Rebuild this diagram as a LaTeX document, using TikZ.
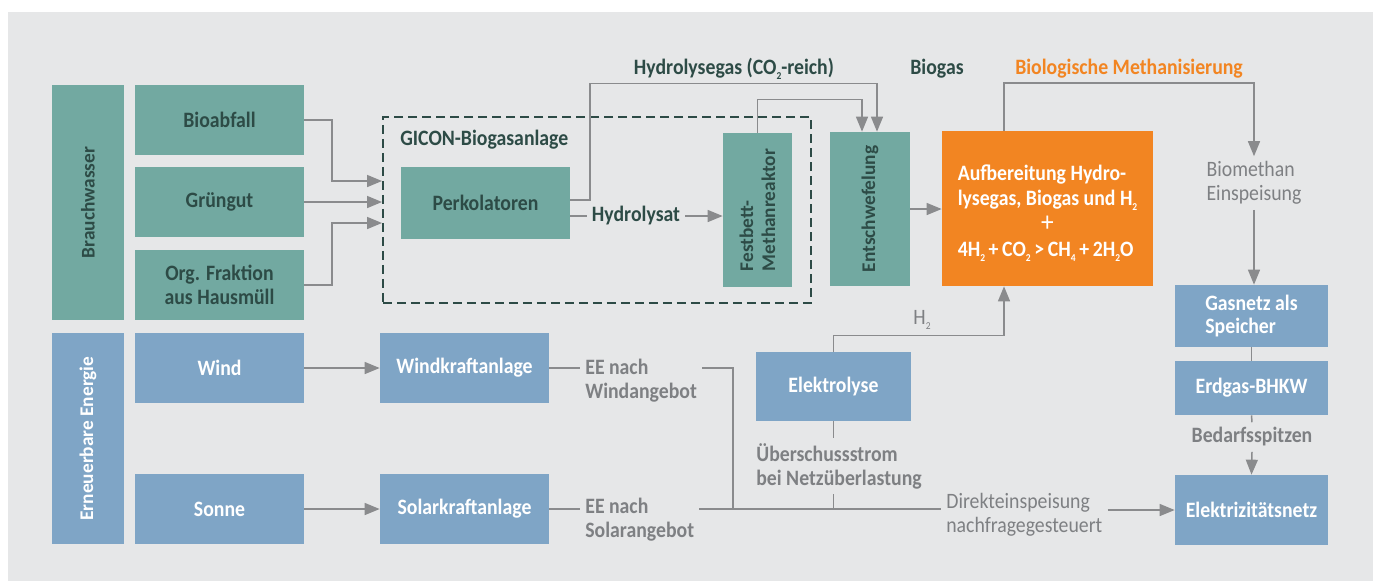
\documentclass[tikz,border=0pt]{standalone}
\usepackage{fontspec}
\setmainfont{Carlito}[FakeStretch=0.9]
\newfontfamily\rotfont{Carlito}
\usepackage{tikz}
\usetikzlibrary{arrows.meta}
\definecolor{tealbg}{HTML}{72A9A1}
\definecolor{tealtext}{HTML}{2D4B46}
\definecolor{bluebg}{HTML}{7FA5C6}
\definecolor{orangebg}{HTML}{F28522}
\definecolor{linegray}{HTML}{8A8B8D}
\definecolor{textgray}{HTML}{7E8083}
\definecolor{bggray}{HTML}{E6E7E8}
\newcommand{\lowidx}[1]{\raisebox{-0.45ex}{\fontsize{6}{6}\selectfont #1}}

\begin{document}
\begin{tikzpicture}[x=0.02cm,y=-0.02cm,line join=miter,
    font=\fontsize{12.5}{13.6}\selectfont\bfseries,
    box/.style 2 args={rectangle,inner sep=2pt,minimum width=#1*0.02cm,minimum height=#2*0.02cm,align=center},
    tealbox/.style={fill=tealbg,text=tealtext},
    bluebox/.style={fill=bluebg,text=white},
    rotlabel/.style={rotate=90,font=\rotfont\fontsize{11}{12.5}\selectfont\bfseries},
    darktext/.style={text=tealtext,inner sep=0.1cm},
    graytext/.style={text=textgray,inner sep=0.1cm,align=left},
    plaintext/.style={font=\fontsize{12.5}{13.6}\selectfont},
    link/.style={draw=linegray,line width=0.85pt},
    flow/.style={link,-{Triangle[length=0.3cm,width=0.24cm]}}]
        \useasboundingbox (0,0) rectangle (1373,583);
        \fill[bggray] (8,12) rectangle (1373,581);
        % Stoffstrom
        \node[box={235}{72},tealbox,rotlabel] (brauch) at (88,202.5) {Brauchwasser};
        \node[box={169}{70},tealbox] (bio) at (219.5,120) {Bioabfall};
        \node[box={169}{70},tealbox] (gruen) at (219.5,202) {Grüngut};
        \node[box={169}{70},tealbox] (org) at (219.5,285) {Org. Fraktion\\aus Hausmüll};
        \node[box={428}{186},draw=tealtext,line width=1.1pt,dash pattern=on 0.18cm off 0.1cm] (gicon) at (597,210) {};
        \node[darktext,anchor=west] (giconlabel) at (395,140) {GICON-Biogasanlage};
        \node[box={169}{72},tealbox] (perk) at (485.5,203) {Perkolatoren};
        % rotierte Knoten: east = oben, north = links, south = rechts
        \node[box={154}{69},tealbox,rotlabel,align=left] (festbett) at (757.5,210) {Festbett-\\Methanreaktor};
        \node[box={154}{80},tealbox,rotlabel] (entsch) at (870,209) {Entschwefelung};
        \node[box={211}{155},fill=orangebg,text=white,inner sep=0pt,font=\fontsize{12.5}{14.5}\selectfont\bfseries] (aufb) at (1047.5,208.5)
            {\raisebox{-0.1cm}[\height][\depth]{\begin{tabular}{@{}l@{}}Aufbereitung Hydro-\\lysegas, Biogas und H\lowidx{2}\\\multicolumn{1}{@{}c@{}}{\mdseries\fontsize{16}{14.5}\selectfont +}\\4H\lowidx{2}\,+\,CO\lowidx{2}\,>\,CH\lowidx{4}\,+\,2H\lowidx{2}O\end{tabular}}};
        \node[darktext] (hgas) at (734,69) {Hydrolysegas (CO\lowidx{2}-reich)};
        \node[darktext] (biogas) at (937,69) {Biogas};
        \node[darktext,text=orangebg] (methan) at (1129,69) {Biologische Methanisierung};
        \node[darktext] (hydrolysat) at (636,216) {Hydrolysat};
        \node[graytext,plaintext] (biomethan) at (1254,183) {Biomethan\\Einspeisung};
        % Energie
        \node[box={211}{72},bluebox,rotlabel] (erneu) at (88,438.5) {Erneuerbare Energie};
        \node[box={169}{70},bluebox] (wind) at (219.5,368) {Wind};
        \node[box={169}{70},bluebox] (sonne) at (219.5,509) {Sonne};
        \node[box={169}{70},bluebox] (windk) at (464.5,368) {Windkraftanlage};
        \node[box={169}{70},bluebox] (solark) at (464.5,509) {Solarkraftanlage};
        \node[graytext,anchor=west] (eewind) at (580,381) {EE nach\\Windangebot};
        \node[graytext,anchor=west] (eesolar) at (580,520) {EE nach\\Solarangebot};
        \node[box={155}{69},bluebox] (elektrolyse) at (833.5,386.5) {Elektrolyse};
        \node[graytext,anchor=west] (ueber) at (751,466) {Überschussstrom\\bei Netzüberlastung};
        \node[graytext,plaintext,anchor=west] (direkt) at (941,515) {Direkteinspeisung\\nachfragegesteuert};
        \node[graytext,plaintext] (htwo) at (922,320) {H\lowidx{2}};
        \node[box={153}{62},bluebox,align=left] (gasnetz) at (1251.5,316) {Gasnetz als\\Speicher};
        \node[box={153}{54},bluebox] (erdgas) at (1251.5,388) {Erdgas-BHKW};
        \node[graytext] (bedarf) at (1252,437) {Bedarfsspitzen};
        \node[box={153}{70},bluebox] (elnetz) at (1251.5,510) {Elektrizitätsnetz};
        \coordinate (bus) at (733,509);
        % Verbindungen
        \draw[flow] (bio.east) -- (332,120) |- (gicon.west |- 0,181);
        \draw[flow] (gruen.east) -- (gruen.east -| gicon.west);
        \draw[flow] (org.east) -- (332,285) |- (gicon.west |- 0,223);
        \draw[flow] (perk.east |- 0,200) -- (590,200) -- (590,83.5) -| ([xshift=0.14cm]entsch.east);
        \draw[link] (perk.east |- 0,216) -- (hydrolysat.west);
        \draw[flow] (hydrolysat.east) -- (festbett.north |- 0,216);
        \draw[flow] (festbett.east) -- ++(0,-33) -| ([xshift=-0.16cm]entsch.east);
        \draw[flow] (entsch.south) -- (entsch.south -| aufb.west);
        \draw[flow] ([xshift=-0.87cm]aufb.north) -- ++(0,-47.5) -| (biomethan.north);
        \draw[flow] (biomethan.south) -- (biomethan.south |- gasnetz.north);
        \draw[link] (gasnetz.south) -- (erdgas.north);
        \draw[link] (erdgas.south) -- (bedarf.north);
        \draw[flow] (bedarf.south) -- (elnetz.north);
        \draw[flow] (elektrolyse.north) -- ++(0,-16) -| ([xshift=-0.87cm]aufb.south);
        \draw[flow] (wind.east) -- (windk.west);
        \draw[flow] (sonne.east) -- (solark.west);
        \draw[link] (windk.east) -- (windk.east -| eewind.west);
        \draw[link] (solark.east) -- (solark.east -| eesolar.west);
        \draw[link] (eewind.east |- windk.east) -| (bus);
        \draw[link] (eesolar.east |- solark.east) -- (solark.east -| direkt.west);
        \draw[link] (elektrolyse.south) -- (elektrolyse.south |- ueber.north);
        \draw[link] (elektrolyse.south |- ueber.south) -- (elektrolyse.south |- bus);
        \draw[flow] (direkt.east |- elnetz.west) -- (elnetz.west);
\end{tikzpicture}
\end{document}
